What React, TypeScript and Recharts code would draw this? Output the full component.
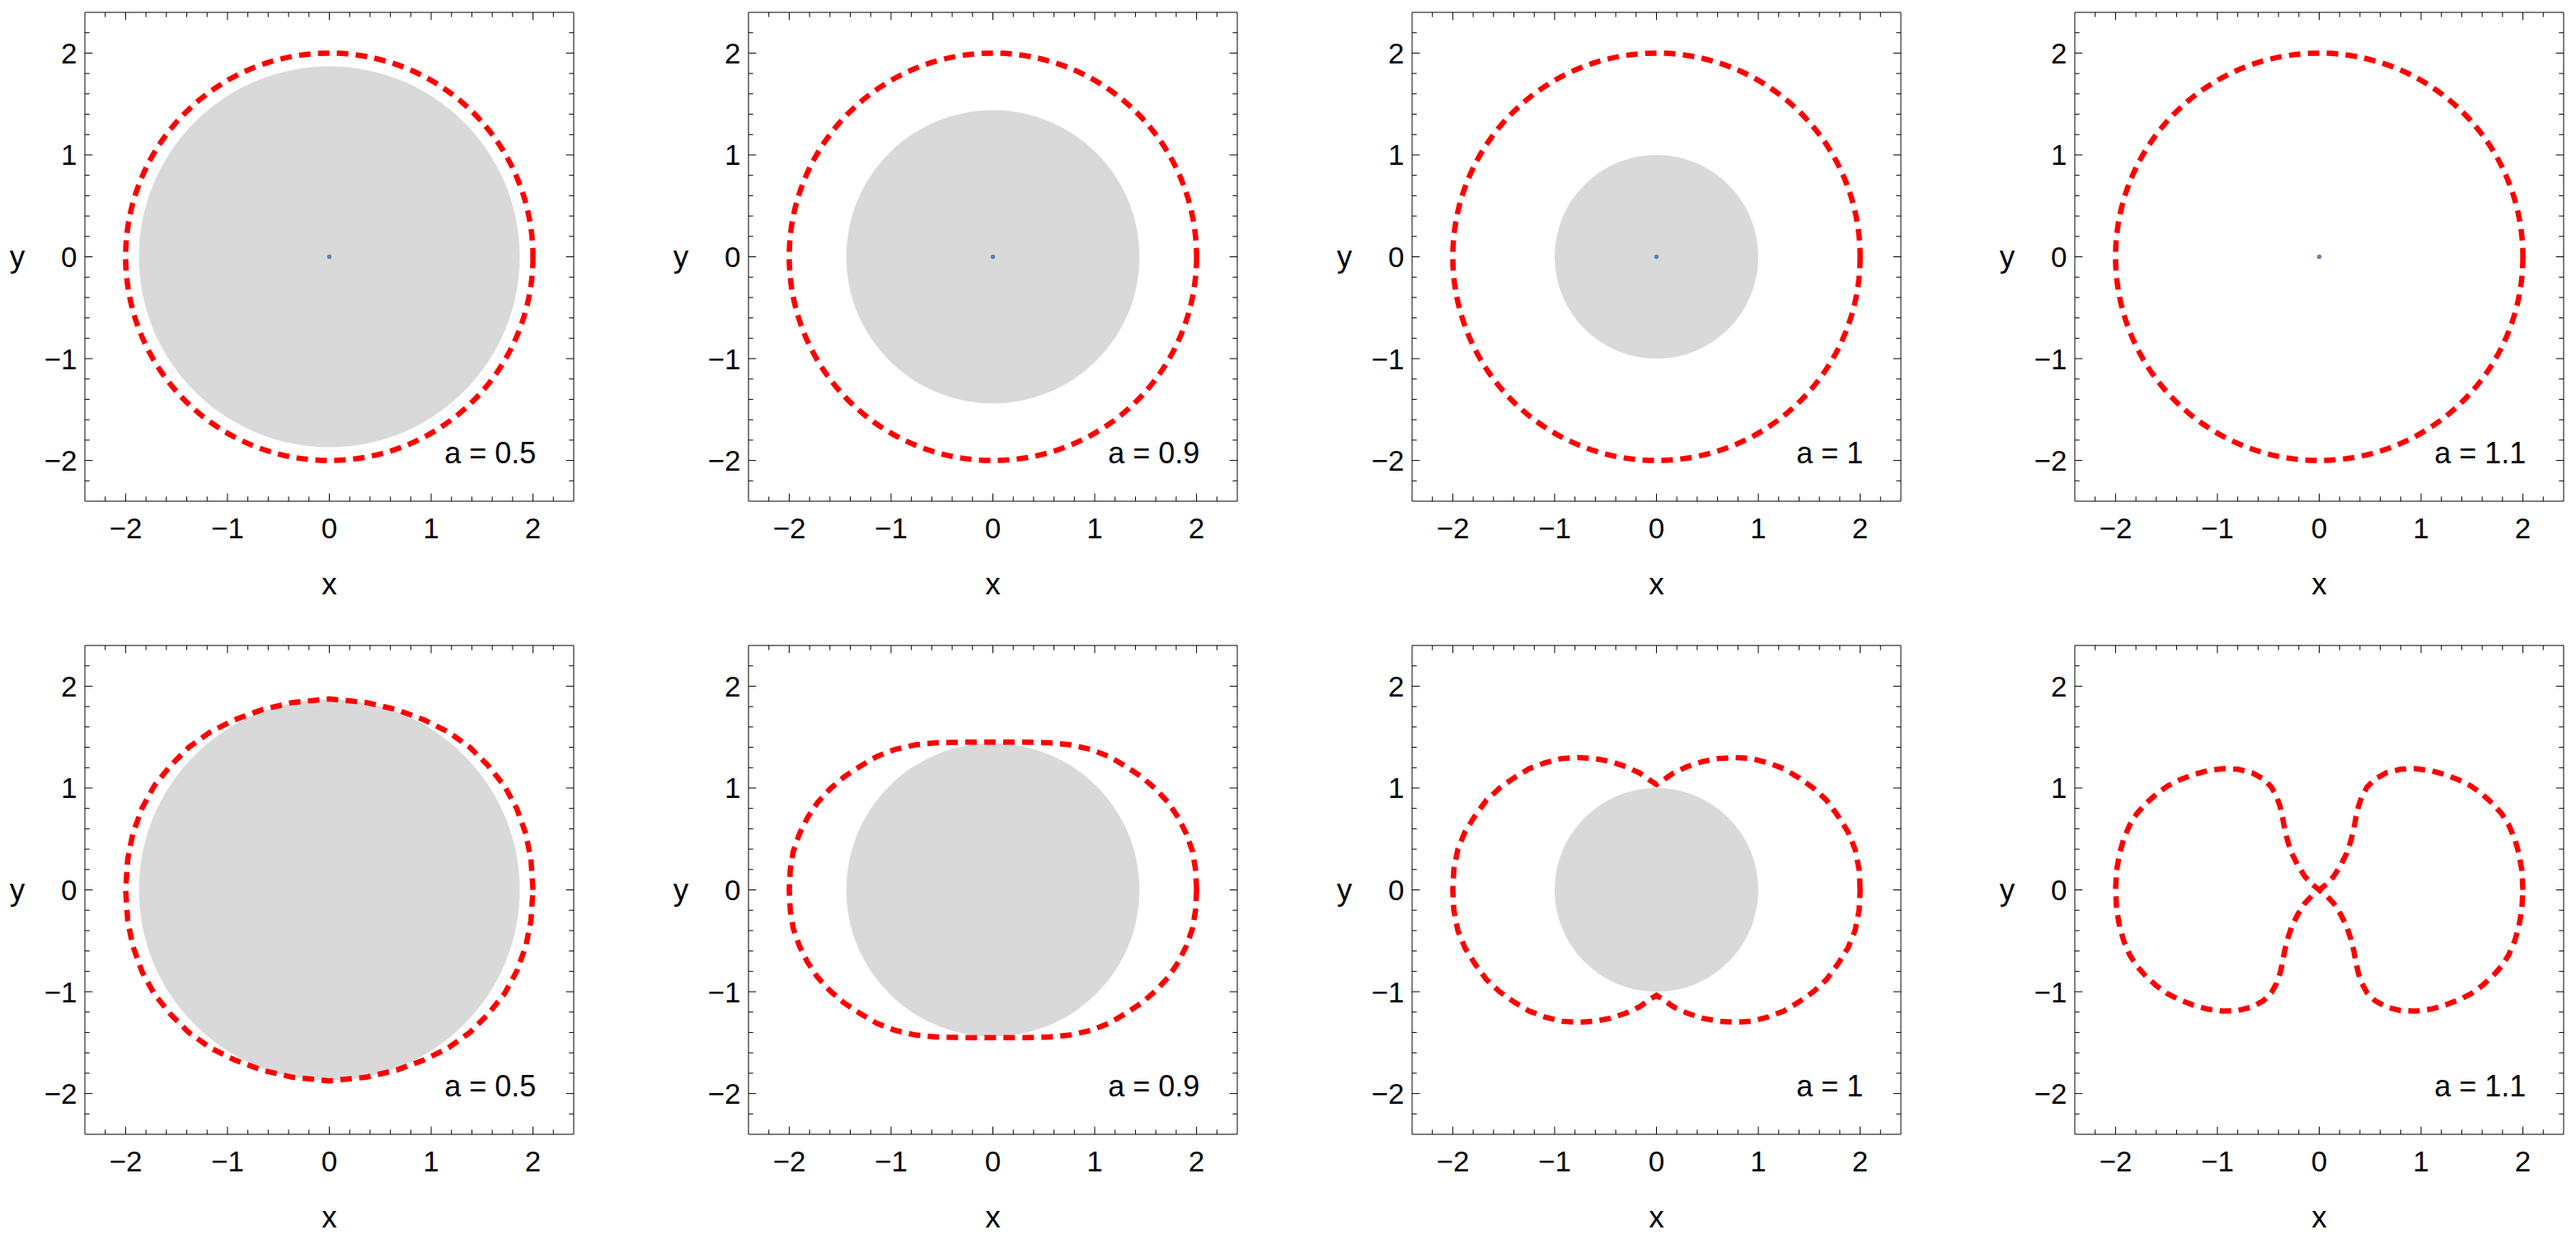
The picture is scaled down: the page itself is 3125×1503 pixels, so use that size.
import React from "react";
import { ScatterChart, Scatter, XAxis, YAxis } from "recharts";

const aLabels = ["0.5", "0.9", "1", "1.1"];
// grey disk radius per panel column (0 = no disk)
const diskRadii = [1.87, 1.44, 1.0, 0];
// top row: dashed circle radius
const ringRadius = 2;

const axisTicks = [
  -2.2, -2, -1.8, -1.6, -1.4, -1.2, -1, -0.8, -0.6, -0.4, -0.2, 0,
  0.2, 0.4, 0.6, 0.8, 1, 1.2, 1.4, 1.6, 1.8, 2, 2.2,
];
const tickLabels: Record<string, string> = { "-2": "\u22122", "-1": "\u22121", "0": "0", "1": "1", "2": "2" };

// bottom row: first-quadrant traces of the dashed curves
const curveA05 = [
  [2, 0], [1.98, 0.3], [1.93, 0.55], [1.84, 0.8], [1.72, 1.02], [1.56, 1.22],
  [1.38, 1.4], [1.17, 1.55], [0.93, 1.67], [0.66, 1.77], [0.36, 1.84], [0, 1.875],
];
const curveA09 = [
  [2, 0], [1.99, 0.2], [1.96, 0.38], [1.9, 0.55], [1.82, 0.71], [1.72, 0.86],
  [1.6, 0.99], [1.46, 1.11], [1.31, 1.21], [1.14, 1.31], [0.96, 1.38], [0.76, 1.425],
  [0.55, 1.445], [0.3, 1.45], [0, 1.45],
];
const curveA1 = [
  [2, 0], [1.99, 0.2], [1.95, 0.4], [1.88, 0.57], [1.78, 0.73], [1.67, 0.88],
  [1.54, 1.0], [1.4, 1.1], [1.25, 1.19], [1.09, 1.25], [0.93, 1.29], [0.77, 1.3],
  [0.61, 1.29], [0.45, 1.26], [0.3, 1.21], [0.17, 1.15], [0.07, 1.08], [0, 1.035],
];
const curveA11 = [
  [2, 0], [1.99, 0.19], [1.96, 0.36], [1.92, 0.5], [1.86, 0.64], [1.79, 0.75],
  [1.7, 0.85], [1.6, 0.94], [1.49, 1.02], [1.37, 1.08], [1.24, 1.13], [1.1, 1.17],
  [0.95, 1.19], [0.8, 1.185], [0.66, 1.15], [0.55, 1.09], [0.47, 1.01], [0.42, 0.92],
  [0.385, 0.82], [0.36, 0.71], [0.34, 0.6], [0.31, 0.48], [0.27, 0.36], [0.21, 0.24],
  [0.14, 0.13], [0.07, 0.055], [0, 0],
];
const bottomCurves = [curveA05, curveA09, curveA1, curveA11];
const crossesOrigin = [false, false, false, true];

const labelPos = { x: 2.03, y: -2.03 };

const RED = "#FF0000";
const GREY = "#D9D9D9";
const DOT = "#5E81B5";
const INK = "#000";
const FONT = "'Liberation Sans', Arial, Helvetica, sans-serif";
const DASH = "14 9";
const DASH_W = 6.5;

// build the full closed loop from a quadrant by mirroring
const closedLoop = (q: number[][], cross: boolean) => {
  const rev = [...q].reverse();
  const parts = cross
    ? [q, rev.map(([x, y]) => [-x, -y]), q.map(([x, y]) => [-x, y]), rev.map(([x, y]) => [x, -y])]
    : [q, rev.map(([x, y]) => [-x, y]), q.map(([x, y]) => [-x, -y]), rev.map(([x, y]) => [x, -y])];
  return parts.flat().map(([x, y]) => ({ x, y }));
};

const isMajor = (v: number) => Math.abs(v - Math.round(v)) < 1e-6;
const tickLen = (v: number) => (isMajor(v) ? 9.3 : 5.7);
const labelFor = (v: number) => tickLabels[String(Math.round(v))];

const BottomTick = (p: any) => {
  const v = p.payload.value;
  return (
    <g>
      <line x1={p.x} y1={p.y} x2={p.x} y2={p.y - tickLen(v)} stroke={INK} strokeWidth={1} />
      {isMajor(v) && (
        <text x={p.x} y={p.y + 45} textAnchor="middle" fontSize={35} fontFamily={FONT} fill={INK}>
          {labelFor(v)}
        </text>
      )}
    </g>
  );
};
const TopTick = (p: any) => (
  <line x1={p.x} y1={p.y} x2={p.x} y2={p.y + tickLen(p.payload.value)} stroke={INK} strokeWidth={1} />
);
const LeftTick = (p: any) => {
  const v = p.payload.value;
  return (
    <g>
      <line x1={p.x} y1={p.y} x2={p.x + tickLen(v)} y2={p.y} stroke={INK} strokeWidth={1} />
      {isMajor(v) && (
        <text x={p.x - 9.5} y={p.y + 12.5} textAnchor="end" fontSize={35} fontFamily={FONT} fill={INK}>
          {labelFor(v)}
        </text>
      )}
    </g>
  );
};
const RightTick = (p: any) => (
  <line x1={p.x} y1={p.y} x2={p.x - tickLen(p.payload.value)} y2={p.y} stroke={INK} strokeWidth={1} />
);

const hidden = () => <g />;

const circleFromPoints = (style: any) => (p: any) => {
  const [c, e] = p.points;
  return <circle cx={c.x} cy={c.y} r={Math.abs(e.x - c.x)} {...style} />;
};

const dashedLoop = (p: any) => {
  const d = p.points.map((pt: any, i: number) => `${i ? "L" : "M"}${pt.x},${pt.y}`).join("") + "Z";
  return <path d={d} fill="none" stroke={RED} strokeWidth={DASH_W} strokeDasharray={DASH} />;
};

const dashedStyle = { fill: "none", stroke: RED, strokeWidth: DASH_W, strokeDasharray: DASH };

const PLOT = 593;
const LEFT_W = 103;
const TOP_H = 15;
const RIGHT_W = 12;
const BOTTOM_H = 140;

const Panel = ({ row, col }: { row: number; col: number }) => {
  const disk = diskRadii[col];
  return (
    <ScatterChart
      width={LEFT_W + PLOT + RIGHT_W}
      height={TOP_H + PLOT + BOTTOM_H}
      margin={{ top: 0, right: 0, bottom: 0, left: 0 }}
    >
      <XAxis
        xAxisId="b"
        type="number"
        dataKey="x"
        domain={[-2.4, 2.4]}
        allowDataOverflow
        ticks={axisTicks}
        interval={0}
        tickSize={0}
        tickMargin={0}
        tickLine={false}
        tick={BottomTick}
        height={BOTTOM_H}
        axisLine={{ stroke: INK, strokeWidth: 1 }}
        label={{
          content: (lp: any) => (
            <text x={lp.viewBox.x + lp.viewBox.width / 2} y={lp.viewBox.y + 113} textAnchor="middle" fontSize={37} fontFamily={FONT} fill={INK}>
              x
            </text>
          ),
        }}
      />
      <XAxis
        xAxisId="t"
        orientation="top"
        type="number"
        dataKey="x"
        domain={[-2.4, 2.4]}
        allowDataOverflow
        ticks={axisTicks}
        interval={0}
        tickSize={0}
        tickMargin={0}
        tickLine={false}
        tick={TopTick}
        height={TOP_H}
        axisLine={{ stroke: INK, strokeWidth: 1 }}
      />
      <YAxis
        yAxisId="l"
        type="number"
        dataKey="y"
        domain={[-2.4, 2.4]}
        allowDataOverflow
        ticks={axisTicks}
        interval={0}
        tickSize={0}
        tickMargin={0}
        tickLine={false}
        tick={LeftTick}
        width={LEFT_W}
        axisLine={{ stroke: INK, strokeWidth: 1 }}
        label={{
          content: (lp: any) => (
            <text x={lp.viewBox.x + 21} y={lp.viewBox.y + lp.viewBox.height / 2 + 12} textAnchor="middle" fontSize={37} fontFamily={FONT} fill={INK}>
              y
            </text>
          ),
        }}
      />
      <YAxis
        yAxisId="r"
        orientation="right"
        type="number"
        dataKey="y"
        domain={[-2.4, 2.4]}
        allowDataOverflow
        ticks={axisTicks}
        interval={0}
        tickSize={0}
        tickMargin={0}
        tickLine={false}
        tick={RightTick}
        width={RIGHT_W}
        axisLine={{ stroke: INK, strokeWidth: 1 }}
      />
      {disk > 0 && (
        <Scatter
          xAxisId="b"
          yAxisId="l"
          data={[{ x: 0, y: 0 }, { x: disk, y: 0 }]}
          shape={hidden}
          line={circleFromPoints({ fill: GREY, stroke: "none" })}
          isAnimationActive={false}
        />
      )}
      {row === 0 ? (
        <Scatter
          xAxisId="b"
          yAxisId="l"
          data={[{ x: 0, y: 0 }, { x: ringRadius, y: 0 }]}
          shape={hidden}
          line={circleFromPoints(dashedStyle)}
          isAnimationActive={false}
        />
      ) : (
        <Scatter
          xAxisId="b"
          yAxisId="l"
          data={closedLoop(bottomCurves[col], crossesOrigin[col])}
          shape={hidden}
          line={dashedLoop}
          isAnimationActive={false}
        />
      )}
      {row === 0 && (
        <Scatter
          xAxisId="b"
          yAxisId="l"
          data={[{ x: 0, y: 0 }]}
          shape={(p: any) => <circle cx={p.cx} cy={p.cy} r={2.7} fill={DOT} />}
          isAnimationActive={false}
        />
      )}
      <Scatter
        xAxisId="b"
        yAxisId="l"
        data={[{ ...labelPos, text: `a = ${aLabels[col]}` }]}
        shape={(p: any) => (
          <text x={p.cx} y={p.cy} textAnchor="end" fontSize={36} fontFamily={FONT} fill={INK} style={{ whiteSpace: "pre" }}>
            {p.payload.text}
          </text>
        )}
        isAnimationActive={false}
      />
    </ScatterChart>
  );
};

export default function App() {
  const rows = [0, 1];
  const cols = [0, 1, 2, 3];
  return (
    <div style={{ position: "absolute", left: 0, top: 0, width: 3125, height: 1503, background: "#fff", fontFamily: FONT }}>
      {rows.map((r) =>
        cols.map((c) => (
          <div key={`${r}-${c}`} style={{ position: "absolute", left: Math.round(c * 804.8), top: Math.round(r * 767.5) }}>
            <Panel row={r} col={c} />
          </div>
        ))
      )}
    </div>
  );
}
